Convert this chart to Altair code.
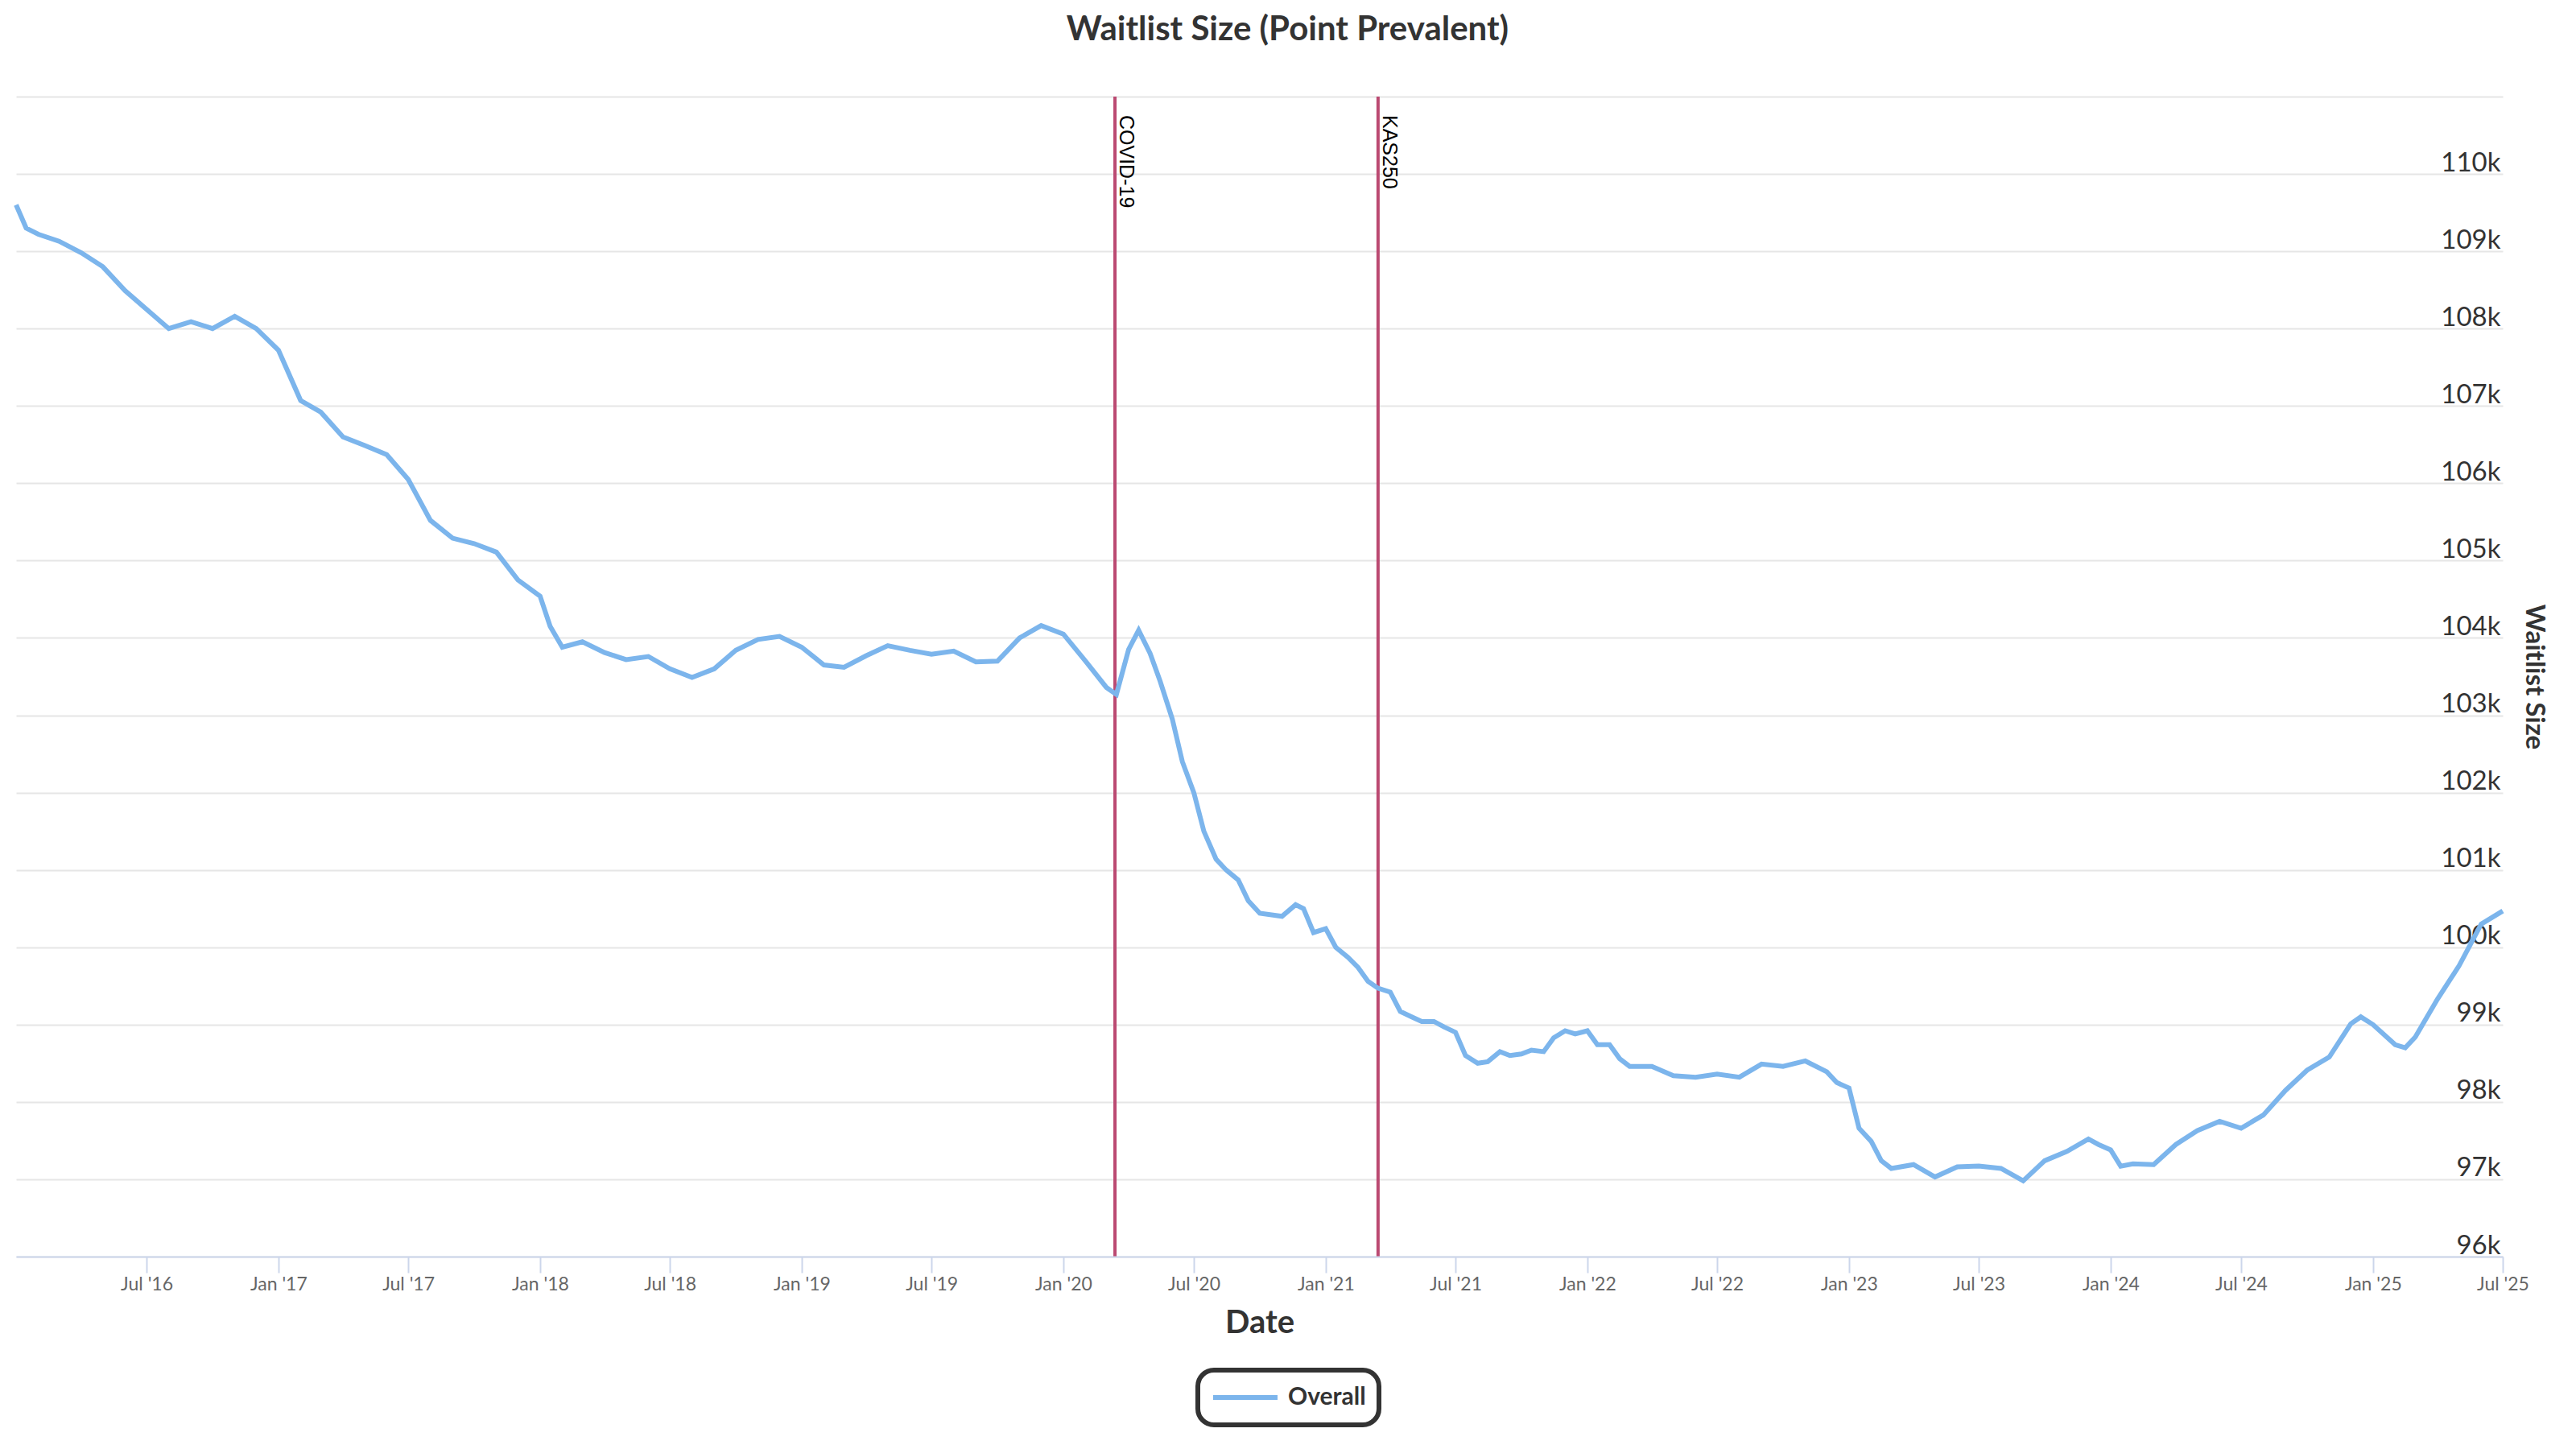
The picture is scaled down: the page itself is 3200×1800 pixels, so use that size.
import altair as alt
import pandas as pd

# ---------------- data ----------------
dates = [
    "2016-01-01", "2016-01-15", "2016-02-01", "2016-03-01", "2016-04-01", "2016-05-01", "2016-06-01",
    "2016-07-01", "2016-08-01", "2016-09-01", "2016-10-01", "2016-11-01", "2016-12-01",
    "2017-01-01", "2017-02-01", "2017-03-01", "2017-04-01", "2017-05-01", "2017-06-01",
    "2017-07-01", "2017-08-01", "2017-09-01", "2017-10-01", "2017-11-01", "2017-12-01",
    "2018-01-01", "2018-01-15", "2018-02-01", "2018-03-01", "2018-04-01", "2018-05-01", "2018-06-01",
    "2018-07-01", "2018-08-01", "2018-09-01", "2018-10-01", "2018-11-01", "2018-12-01",
    "2019-01-01", "2019-02-01", "2019-03-01", "2019-04-01", "2019-05-01", "2019-06-01",
    "2019-07-01", "2019-08-01", "2019-09-01", "2019-10-01", "2019-11-01", "2019-12-01",
    "2020-01-01", "2020-02-01", "2020-03-01", "2020-03-15", "2020-04-01", "2020-04-15",
    "2020-05-01", "2020-05-15", "2020-06-01", "2020-06-15", "2020-07-01", "2020-07-15",
    "2020-08-01", "2020-08-15", "2020-09-01", "2020-09-15", "2020-10-01", "2020-11-01",
    "2020-11-20", "2020-12-01", "2020-12-15",
    "2021-01-01", "2021-01-15", "2021-02-01", "2021-02-15", "2021-03-01", "2021-03-15",
    "2021-04-01", "2021-04-15", "2021-05-01", "2021-05-15", "2021-06-01", "2021-06-15",
    "2021-07-01", "2021-07-15", "2021-08-01", "2021-08-15", "2021-09-01", "2021-09-15",
    "2021-10-01", "2021-10-15", "2021-11-01", "2021-11-15", "2021-12-01", "2021-12-15",
    "2022-01-01", "2022-01-15", "2022-02-01", "2022-02-15", "2022-03-01", "2022-04-01",
    "2022-05-01", "2022-06-01", "2022-07-01", "2022-08-01", "2022-09-01", "2022-10-01",
    "2022-11-01", "2022-12-01", "2022-12-15",
    "2023-01-01", "2023-01-15", "2023-02-01", "2023-02-15", "2023-03-01", "2023-04-01",
    "2023-05-01", "2023-06-01", "2023-07-01", "2023-08-01", "2023-09-01", "2023-10-01",
    "2023-11-01", "2023-12-01", "2023-12-15",
    "2024-01-01", "2024-01-15", "2024-02-01", "2024-03-01", "2024-04-01", "2024-05-01",
    "2024-06-01", "2024-07-01", "2024-08-01", "2024-09-01", "2024-10-01", "2024-11-01",
    "2024-12-01", "2024-12-15",
    "2025-01-01", "2025-02-01", "2025-02-15", "2025-03-01", "2025-04-01", "2025-05-01",
    "2025-06-01", "2025-07-01",
]
waitlist = [
    109600, 109300, 109220, 109130, 108980, 108800, 108490,
    108250, 108000, 108090, 108000, 108160, 108000,
    107720, 107070, 106920, 106600, 106490, 106370,
    106050, 105520, 105290, 105220, 105110, 104750,
    104540, 104150, 103880, 103950, 103810, 103720, 103760,
    103600, 103490, 103600, 103840, 103980, 104020,
    103880, 103650, 103620, 103770, 103900, 103840,
    103790, 103830, 103690, 103700, 104000, 104160,
    104050, 103700, 103360, 103270, 103850, 104100,
    103800, 103440, 102950, 102400, 102000, 101500,
    101140, 101000, 100870, 100600, 100440, 100400,
    100550, 100500, 100190,
    100240, 100000, 99870, 99740, 99560, 99470,
    99420, 99170, 99100, 99040, 99040, 98970,
    98900, 98600, 98500, 98520, 98650, 98600,
    98620, 98670, 98650, 98830, 98920, 98880,
    98920, 98740, 98740, 98560, 98460, 98460,
    98340, 98320, 98360, 98320, 98490, 98460,
    98530, 98390, 98250,
    98180, 97660, 97490, 97240, 97140, 97190,
    97030, 97160, 97170, 97140, 96980, 97240,
    97360, 97520, 97450,
    97380, 97170, 97200, 97190, 97450, 97630,
    97750, 97660, 97830, 98150, 98410, 98580,
    99010, 99100,
    99000, 98740, 98700, 98840, 99330, 99760,
    100300, 100470,
]
series_name = "Overall"

event_dates = ["2020-03-13", "2021-03-15"]
event_labels = ["COVID-19", "KAS250"]

y_tick_values = list(range(96000, 112000, 1000))
x_tick_months = [(y, m) for y in range(2016, 2026) for m in (1, 7)
                 if (y, m) >= (2016, 7) and (y, m) <= (2025, 7)]

# ---------------- styling ----------------
FONT = "Lato"
LINE_COLOR = "#7cb5ec"
RULE_COLOR = "#bb4a72"
W, H = 3089, 1441

df = pd.DataFrame({"date": dates, "value": waitlist, "series": series_name})
ev = pd.DataFrame({"date": event_dates, "label": event_labels})

x_scale = alt.Scale(type="utc")
y_scale = alt.Scale(domain=[96000, 111000], nice=False, zero=False)

x_axis = alt.Axis(
    values=[alt.DateTime(year=y, month=m, date=1, utc=True) for y, m in x_tick_months],
    labelExpr="utcFormat(datum.value, \"%b '%y\")",
    grid=False,
    domainColor="#ccd6eb", domainWidth=2,
    tickColor="#ccd6eb", tickWidth=2, tickSize=20,
    labelFont=FONT, labelFontSize=23, labelColor="#666666", labelPadding=3,
    labelFlush=False, labelOverlap=False,
    title="Date", titleFont=FONT, titleFontSize=40, titleFontWeight="bold",
    titleColor="#333333", titleY=82, titleBaseline="middle",
    zindex=1,
)
y_axis = alt.Axis(
    orient="right",
    values=y_tick_values,
    labelExpr="datum.value > 110500 ? '' : format(datum.value / 1000, 'd') + 'k'",
    grid=True, gridColor="#e6e6e6", gridWidth=2,
    domain=False, ticks=False, tickSize=0,
    labelAlign="right", labelBaseline="alphabetic", labelPadding=-3, labelOffset=-4,
    labelFont=FONT, labelFontSize=33, labelColor="#333333",
    title="Waitlist Size", titleFont=FONT, titleFontSize=33, titleFontWeight="bold",
    titleColor="#333333", titleAngle=90, titleX=38, titleY=H / 2,
    titleAlign="center", titleBaseline="middle",
)

legend = alt.Legend(
    title=None, orient="none", legendX=1468, legendY=1582,
    symbolType="stroke", symbolSize=6400, symbolStrokeWidth=6, clipHeight=36,
    labelFont=FONT, labelFontSize=30, labelFontWeight="bold", labelColor="#333333",
    labelOffset=10, padding=16, cornerRadius=20, strokeColor="#333333",
)

rules = alt.Chart(ev).mark_rule(color=RULE_COLOR, strokeWidth=4).encode(
    x=alt.X("date:T", scale=x_scale, axis=x_axis)
)
labels = alt.Chart(ev).mark_text(
    angle=90, align="left", baseline="alphabetic", dx=23, dy=-6,
    font="Liberation Sans", fontSize=25, color="#000000",
).encode(x=alt.X("date:T"), y=alt.value(0), text="label:N")

line = alt.Chart(df).mark_line(strokeWidth=6).encode(
    x=alt.X("date:T", scale=x_scale, axis=x_axis),
    y=alt.Y("value:Q", scale=y_scale, axis=y_axis),
    color=alt.Color("series:N", scale=alt.Scale(domain=[series_name], range=[LINE_COLOR]),
                    legend=legend),
)

chart = alt.layer(rules, labels, line).properties(
    width=W, height=H,
    title=alt.TitleParams(
        text="Waitlist Size (Point Prevalent)", font=FONT, fontSize=42, fontWeight="bold",
        color="#333333", anchor="middle", frame="group", dx=35, offset=26,
        baseline="alphabetic",
    ),
    autosize=alt.AutoSizeParams(type="none"),
    padding={"left": 12, "top": 112, "right": 83, "bottom": 225},
).configure_view(stroke=None).configure_legend(strokeWidth=6)

chart.save("out.html", embed_options={"renderer": "svg", "actions": False})
